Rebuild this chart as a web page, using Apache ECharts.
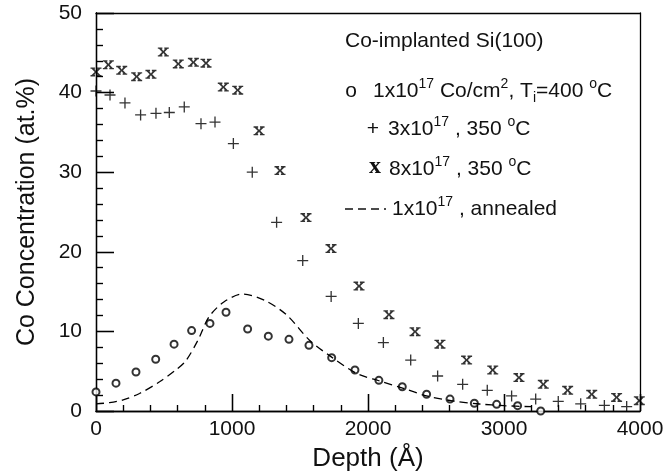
<!DOCTYPE html>
<html>
<head>
<meta charset="utf-8">
<script src="https://cdn.jsdelivr.net/npm/echarts@6/dist/echarts.min.js"></script>
<style>
  html, body { margin: 0; padding: 0; background: #fff; }
  #chart { width: 671px; height: 476px; }
</style>
</head>
<body>
<div id="chart"></div>
<script>
// 1x10^17 Co/cm2, Ti = 400 C  (open circles)
const depthLow = [0, 147, 294, 439, 574, 703, 838, 956, 1115, 1267, 1419, 1566, 1733, 1904, 2080, 2252, 2431, 2603, 2782, 2946, 3100, 3270];
const concLow = [2.4, 3.5, 4.9, 6.5, 8.4, 10.1, 11.0, 12.4, 10.3, 9.4, 9.0, 8.25, 6.7, 5.15, 3.85, 3.05, 2.1, 1.5, 0.97, 0.84, 0.67, 0.0];

// 3x10^17, 350 C  (plus)
const depthMid = [0, 103, 213, 328, 441, 539, 649, 772, 875, 1010, 1149, 1328, 1520, 1729, 1929, 2113, 2314, 2512, 2696, 2877, 3056, 3233, 3399, 3564, 3738, 3902];
const concMid = [40.2, 39.7, 38.7, 37.2, 37.4, 37.5, 38.2, 36.1, 36.3, 33.6, 30.0, 23.7, 18.9, 14.4, 11.0, 8.6, 6.4, 4.4, 3.35, 2.6, 1.9, 1.5, 1.2, 0.9, 0.7, 0.55];

// 8x10^17, 350 C  (bold x)
const depthHigh = [0, 91, 189, 299, 404, 495, 605, 716, 809, 936, 1042, 1199, 1353, 1544, 1728, 1934, 2154, 2346, 2529, 2725, 2917, 3110, 3289, 3468, 3645, 3828, 3995];
const concHigh = [42.6, 43.5, 42.8, 42.0, 42.3, 45.1, 43.6, 43.8, 43.7, 40.7, 40.3, 35.2, 30.2, 24.3, 20.4, 15.7, 12.1, 9.96, 8.4, 6.4, 5.15, 4.2, 3.35, 2.6, 2.1, 1.7, 1.3];

// 1x10^17, annealed  (dashed curve)
const depthAnneal = [0, 100, 200, 320, 470, 590, 660, 750, 830, 940, 1080, 1240, 1400, 1570, 1730, 1920, 2080, 2260, 2430, 2630, 2820, 3000, 3200];
const concAnneal = [0.9, 1.05, 1.4, 2.2, 3.7, 5.2, 6.3, 8.9, 11.8, 13.7, 14.7, 13.9, 12.1, 8.9, 6.8, 4.7, 3.8, 2.85, 1.9, 1.25, 0.88, 0.67, 0.54];

const zip = (xs, ys) => xs.map((x, i) => [x, ys[i]]);

const FONT = '"Liberation Sans", Arial, Helvetica, sans-serif';
const INK = '#111';
// fixed plot rect; outerBoundsMode 'none' keeps ECharts v6 from shrinking it
const GRID = { left: 96, right: 31, top: 13, bottom: 65, containLabel: false, outerBoundsMode: 'none' };

// marker shapes
const plusPath = 'path://M4.4,0h1.2v4.4h4.4v1.2h-4.4v4.4h-1.2v-4.4h-4.4v-1.2h4.4z';
const boldXPath = 'path://M0,0H5V1.5H4.2L6,4L7.8,1.5H7V0H12V1.5H10.8L7.4,5L10.8,8.5H12V10H7V8.5H7.8L6,6L4.2,8.5H5V10H0V8.5H1.2L4.6,5L1.2,1.5H0Z';

const axisLine = () => ({ show: true, onZero: false, lineStyle: { color: '#000', width: 1.3 } });
const ticks = (len) => ({ show: true, inside: true, length: len, lineStyle: { color: '#000', width: 1.3 } });
const minor = (len) => ({ show: true, splitNumber: 5, length: len, lineStyle: { color: '#000', width: 1.2 } });

// axes of the second (overlay) grid: ticks and frame only
const plainAxis = (pos, min, max, interval, tickLen, minorLen) => ({
  type: 'value', gridIndex: 1, position: pos, min: min, max: max, interval: interval,
  axisLine: axisLine(),
  axisTick: tickLen ? ticks(tickLen) : { show: false },
  minorTick: tickLen ? minor(minorLen) : { show: false },
  axisLabel: { show: false }, splitLine: { show: false }
});

const rich = {
  n: { fontSize: 21, fontFamily: FONT, color: INK, lineHeight: 28 },
  sup: { fontSize: 14, fontFamily: FONT, color: INK, lineHeight: 14, verticalAlign: 'top' },
  sub: { fontSize: 14, fontFamily: FONT, color: INK, lineHeight: 14, verticalAlign: 'bottom' }
};

const legendText = (x, y, text) => ({
  type: 'text', x: x, y: y,
  style: { text: text, rich: rich, fill: INK, align: 'left', verticalAlign: 'middle', fontSize: 21, fontFamily: FONT }
});
const legendMark = (x, y, text, size, family, weight) => ({
  type: 'text', x: x, y: y,
  style: { text: text, fontSize: size, fontFamily: family, fontWeight: weight, fill: INK, align: 'center', verticalAlign: 'middle' }
});

const chart = echarts.init(document.getElementById('chart'));

chart.setOption({
  backgroundColor: '#fff',
  animation: false,
  grid: [Object.assign({}, GRID), Object.assign({}, GRID)],
  xAxis: [
    {
      type: 'value', gridIndex: 0, position: 'bottom', min: 0, max: 4000, interval: 1000,
      name: 'Depth (Å)', nameLocation: 'middle', nameGap: 35,
      nameTextStyle: { fontSize: 26, fontFamily: FONT, color: INK },
      axisLine: axisLine(), axisTick: ticks(17), minorTick: minor(6),
      splitLine: { show: false },
      axisLabel: { fontSize: 21, fontFamily: FONT, color: INK, margin: 8, formatter: v => String(v) }
    },
    plainAxis('bottom', 0, 4000, 1000, 17, 6),
    plainAxis('top', 0, 4000, 1000, 0, 0)
  ],
  yAxis: [
    {
      type: 'value', gridIndex: 0, position: 'left', min: 0, max: 50, interval: 10,
      name: 'Co Concentration (at.%)', nameLocation: 'middle', nameGap: 56,
      nameTextStyle: { fontSize: 25, fontFamily: FONT, color: INK },
      axisLine: axisLine(), axisTick: ticks(18), minorTick: minor(7),
      splitLine: { show: false },
      axisLabel: { fontSize: 21, fontFamily: FONT, color: INK, margin: 14, formatter: v => String(v) }
    },
    plainAxis('left', 0, 50, 10, 18, 7),
    plainAxis('right', 0, 50, 10, 0, 0)
  ],
  series: [
    {
      type: 'line', xAxisIndex: 0, yAxisIndex: 0, data: zip(depthAnneal, concAnneal),
      smooth: 0.3, showSymbol: false, symbol: 'none',
      lineStyle: { color: '#000', width: 1.3, type: [8, 5] }
    },
    {
      type: 'scatter', xAxisIndex: 0, yAxisIndex: 0, data: zip(depthLow, concLow),
      symbol: 'emptyCircle', symbolSize: 7,
      itemStyle: { color: '#000', borderColor: '#000', borderWidth: 1.3 }
    },
    {
      type: 'scatter', xAxisIndex: 0, yAxisIndex: 0, data: zip(depthMid, concMid),
      symbol: plusPath, symbolSize: 11,
      itemStyle: { color: '#000' }
    },
    {
      type: 'scatter', xAxisIndex: 0, yAxisIndex: 0, data: zip(depthHigh, concHigh),
      symbol: boldXPath, symbolSize: [11, 9],
      itemStyle: { color: '#000' }
    }
  ],
  graphic: [
    legendText(345, 41, '{n|Co-implanted Si(100)}'),
    legendMark(351, 91, 'o', 21, FONT, 'normal'),
    legendText(373, 91, '{n|1x10}{sup|17}{n| Co/cm}{sup|2}{n|, T}{sub|i}{n|=400 }{sup|o}{n|C}'),
    legendMark(373, 129, '+', 21, FONT, 'normal'),
    legendText(388, 129, '{n|3x10}{sup|17}{n| , 350 }{sup|o}{n|C}'),
    legendMark(375, 167, 'x', 24, '"Liberation Serif", "Times New Roman", serif', 'bold'),
    legendText(389, 169, '{n|8x10}{sup|17}{n| , 350 }{sup|o}{n|C}'),
    { type: 'line', shape: { x1: 345, y1: 209, x2: 386, y2: 209 }, style: { stroke: INK, lineWidth: 1.3, lineDash: [8, 5] } },
    legendText(392, 209, '{n|1x10}{sup|17}{n| , annealed}')
  ]
});
</script>
</body>
</html>
